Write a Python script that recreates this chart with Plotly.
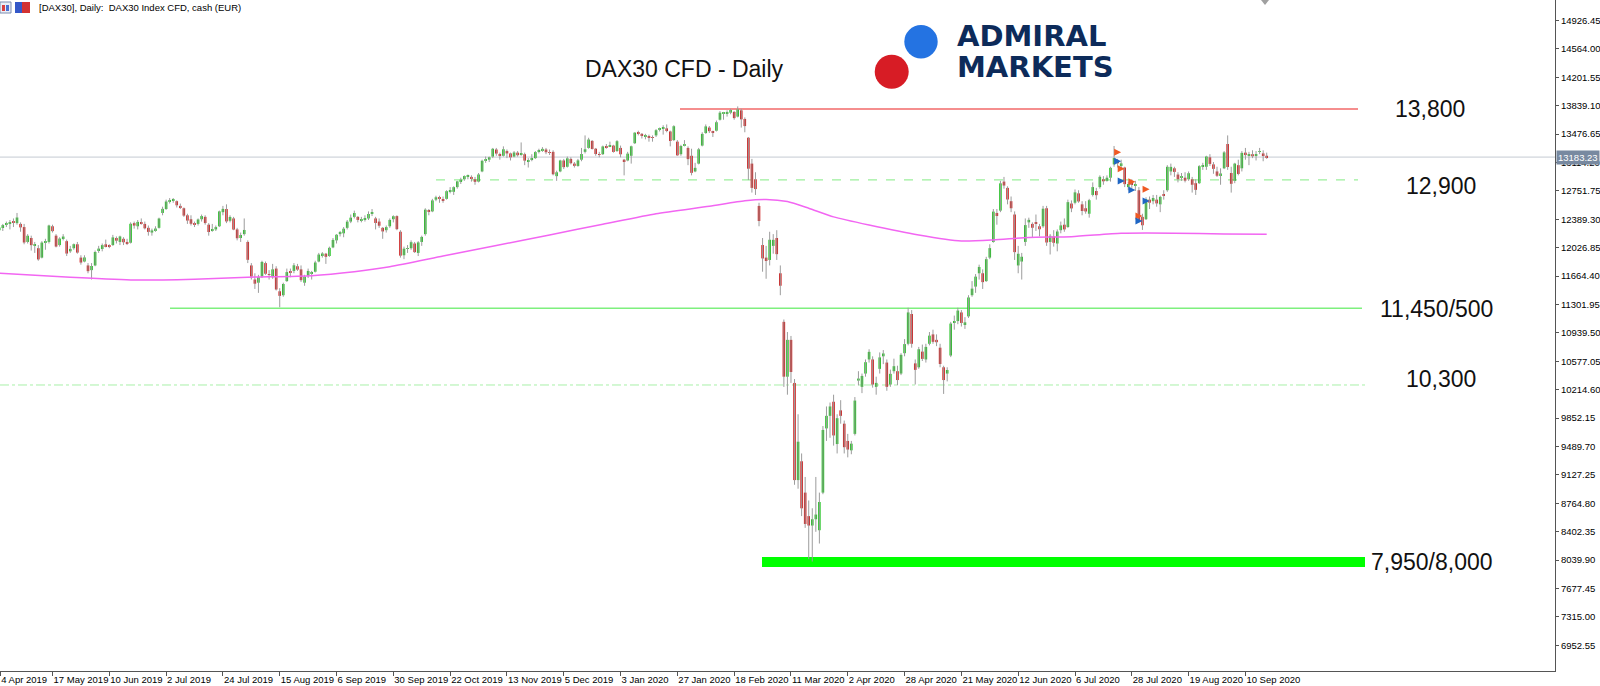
import plotly.graph_objects as go

# ---------------- data ----------------
x_labels = ["4 Apr 2019", "17 May 2019", "10 Jun 2019", "2 Jul 2019", "24 Jul 2019",
            "15 Aug 2019", "6 Sep 2019", "30 Sep 2019", "22 Oct 2019", "13 Nov 2019",
            "5 Dec 2019", "3 Jan 2020", "27 Jan 2020", "18 Feb 2020", "11 Mar 2020",
            "2 Apr 2020", "28 Apr 2020", "21 May 2020", "12 Jun 2020", "6 Jul 2020",
            "28 Jul 2020", "19 Aug 2020", "10 Sep 2020"]
x_label_bars = [0.25, 15, 31, 47, 63, 79, 95, 111, 127, 143, 159, 175, 191, 207, 223,
                239, 255, 271, 287, 303, 319, 335, 351]

y_tick_labels = ["6952.55", "7315.00", "7677.45", "8039.90", "8402.35", "8764.80", "9127.25",
                 "9489.70", "9852.15", "10214.60", "10577.05", "10939.50", "11301.95",
                 "11664.40", "12026.85", "12389.30", "12751.75", "13114.20", "13476.65",
                 "13839.10", "14201.55", "14564.00", "14926.45"]

opens = [
    12250, 12290, 12320, 12330, 12350, 12340, 12330, 12290, 12100, 12150,
    12060, 12020, 11900, 12090, 12100, 12300, 12180, 12060, 12150, 12110,
    11980, 12020, 12070, 11900, 11850, 11800, 11740, 11800, 11990, 12010,
    12070, 12050, 12060, 12150, 12100, 12140, 12100, 12090, 12340, 12300,
    12350, 12330, 12280, 12220, 12250, 12280, 12470, 12520, 12620, 12630,
    12620, 12560, 12530, 12440, 12390, 12330, 12330, 12390, 12420, 12320,
    12240, 12260, 12300, 12480, 12520, 12370, 12400, 12260, 12150, 12200,
    12100, 11800, 11620, 11580, 11660, 11830, 11680, 11650, 11760, 11470,
    11420, 11600, 11720, 11730, 11790, 11750, 11580, 11670, 11700, 11720,
    11850, 11930, 11950, 11920, 12030, 12120, 12200, 12210, 12280, 12360,
    12420, 12420, 12380, 12390, 12400, 12460, 12400, 12360, 12280, 12250,
    12300, 12390, 12430, 12230, 11930, 12010, 12020, 12080, 11960, 12100,
    12200, 12500, 12490, 12640, 12660, 12640, 12650, 12750, 12740, 12800,
    12870, 12900, 12940, 12930, 12900, 12870, 13000, 13140, 13150, 13190,
    13280, 13220, 13200, 13260, 13230, 13190, 13240, 13220, 13220, 13130,
    13150, 13170, 13250, 13270, 13280, 13240, 13250, 12940, 13000, 13140,
    13060, 13160, 13100, 13070, 13150, 13250, 13300, 13390, 13290, 13220,
    13220, 13320, 13320, 13330, 13260, 13300, 13150, 13140, 13200, 13360,
    13500, 13480, 13450, 13450, 13430, 13460, 13530, 13550, 13550, 13510,
    13400, 13380, 13220, 13330, 13300, 13200, 13000, 13100, 13330, 13490,
    13560, 13500, 13520, 13660, 13740, 13740, 13750, 13760, 13700, 13780,
    13670, 13430, 13100, 12900, 12560, 12060, 11900, 11870, 12050, 12150,
    11700, 11080, 10380, 10850, 10300, 9060, 9300, 8900, 8600, 8480,
    8560, 8420, 8900, 9720, 9880, 10060, 9520, 9950, 9780, 9560,
    9440, 9650, 10330, 10250, 10420, 10600, 10600, 10250, 10480, 10640,
    10560, 10280, 10450, 10450, 10420, 10680, 10800, 11180, 10550, 10500,
    10700, 10600, 10800, 10920, 10850, 10750, 10500, 10420, 10650, 11070,
    11090, 11200, 11050, 11150, 11420, 11530, 11700, 11700, 11600, 11900,
    12100, 12470, 12500, 12870, 12790, 12620, 12450, 11800, 11850, 12100,
    12350, 12330, 12350, 12300, 12300, 12530, 12100, 12170, 12080, 12250,
    12320, 12290, 12590, 12600, 12720, 12580, 12530, 12460, 12700, 12750,
    12800, 12900, 12880, 12920, 13090, 13130, 13080, 13050, 12800, 12860,
    12820, 12760, 12420, 12390, 12640, 12620, 12640, 12580, 12700, 12760,
    13000, 13040, 12960, 12920, 12920, 12900, 12900, 12850, 12850, 13060,
    13060, 13180, 13090, 13000, 12950, 13040, 13350, 12980, 12880, 13080,
    13040, 13240, 13200, 13220, 13200, 13250, 13230, 13200]

highs = [
    12310, 12330, 12360, 12380, 12400, 12470, 12350, 12330, 12200, 12180,
    12100, 12060, 12110, 12140, 12320, 12320, 12200, 12160, 12200, 12130,
    12050, 12080, 12100, 11930, 11930, 11830, 11830, 11990, 12050, 12080,
    12130, 12070, 12190, 12170, 12180, 12160, 12140, 12350, 12360, 12380,
    12400, 12360, 12310, 12270, 12300, 12410, 12550, 12640, 12660, 12660,
    12630, 12590, 12540, 12460, 12440, 12360, 12400, 12450, 12440, 12340,
    12330, 12310, 12500, 12560, 12580, 12440, 12420, 12280, 12220, 12400,
    12120, 11830, 11700, 11680, 11860, 11850, 11740, 11820, 11790, 11510,
    11580, 11760, 11760, 11830, 11820, 11800, 11680, 11760, 11730, 11860,
    11960, 11970, 11960, 12040, 12150, 12200, 12240, 12290, 12380, 12450,
    12500, 12430, 12420, 12440, 12490, 12520, 12420, 12400, 12290, 12310,
    12400, 12440, 12440, 12250, 12040, 12060, 12120, 12100, 12110, 12180,
    12530, 12520, 12650, 12690, 12690, 12680, 12760, 12800, 12810, 12880,
    12920, 12950, 12960, 12950, 12930, 12980, 13150, 13190, 13190, 13300,
    13300, 13240, 13320, 13280, 13240, 13260, 13260, 13370, 13240, 13170,
    13220, 13260, 13290, 13310, 13300, 13280, 13270, 13010, 13150, 13160,
    13190, 13180, 13120, 13160, 13300, 13460, 13430, 13400, 13300, 13250,
    13330, 13350, 13380, 13340, 13400, 13330, 13160, 13250, 13330, 13500,
    13520, 13490, 13480, 13470, 13460, 13540, 13560, 13590, 13600, 13520,
    13590, 13400, 13340, 13400, 13320, 13290, 13110, 13300, 13500, 13600,
    13580, 13520, 13650, 13770, 13760, 13780, 13800, 13770, 13830, 13800,
    13690, 13440, 13160, 12990, 12600, 12150, 12050, 12230, 12200, 12250,
    11800, 11110, 10950, 10900, 10350, 9900, 9400, 9100, 8800, 8700,
    9100, 8900, 9750, 10000, 10050, 10150, 9900, 10080, 9820, 9650,
    9560, 10120, 10450, 10420, 10600, 10730, 10640, 10380, 10690, 10720,
    10600, 10470, 10610, 10520, 10680, 10860, 11260, 11230, 10600, 10760,
    10790, 10800, 10950, 10980, 10920, 10800, 10520, 10500, 11080, 11160,
    11260, 11230, 11140, 11420, 11600, 11690, 11810, 11750, 11910, 12070,
    12520, 12520, 12880, 12930, 12810, 12680, 12490, 12050, 11960, 12400,
    12410, 12350, 12450, 12330, 12560, 12560, 12200, 12250, 12260, 12360,
    12400, 12640, 12630, 12770, 12760, 12620, 12620, 12650, 12860, 12790,
    12950, 12940, 12950, 13060, 13325, 13160, 13150, 13060, 12870, 12900,
    12880, 12800, 12460, 12670, 12680, 12700, 12700, 12690, 12760, 13080,
    13100, 13060, 12990, 12980, 12990, 13000, 12930, 12900, 13080, 13110,
    13200, 13220, 13120, 13060, 13040, 13260, 13460, 13060, 13110, 13150,
    13260, 13300, 13250, 13270, 13260, 13300, 13270, 13240]

lows = [
    12220, 12240, 12290, 12260, 12290, 12320, 12230, 12070, 12080, 11990,
    11960, 11860, 11890, 12000, 12080, 12220, 12030, 12040, 12120, 11920,
    11960, 12000, 11950, 11810, 11840, 11700, 11620, 11790, 11960, 11980,
    12030, 12020, 12050, 12080, 12060, 12060, 12060, 12080, 12270, 12260,
    12320, 12260, 12180, 12180, 12230, 12270, 12440, 12510, 12590, 12600,
    12540, 12520, 12420, 12330, 12310, 12290, 12310, 12360, 12320, 12180,
    12230, 12240, 12290, 12440, 12340, 12350, 12250, 12120, 12100, 12180,
    11830, 11620, 11500, 11450, 11640, 11680, 11620, 11630, 11480, 11266,
    11400, 11590, 11650, 11700, 11730, 11590, 11540, 11640, 11620, 11710,
    11840, 11900, 11820, 11910, 12020, 12080, 12170, 12160, 12260, 12340,
    12400, 12350, 12350, 12360, 12380, 12430, 12260, 12280, 12140, 12220,
    12280, 12350, 12250, 11900, 11880, 11960, 12000, 11960, 11920, 12050,
    12180, 12440, 12480, 12620, 12600, 12600, 12640, 12720, 12700, 12780,
    12840, 12880, 12900, 12870, 12830, 12860, 12990, 13110, 13120, 13170,
    13200, 13150, 13190, 13170, 13140, 13180, 13190, 13200, 13080, 13050,
    13130, 13160, 13230, 13250, 13220, 13210, 12950, 12880, 12990, 13030,
    13050, 13090, 13050, 13060, 13130, 13230, 13290, 13280, 13200, 13180,
    13210, 13290, 13310, 13240, 13250, 13180, 12950, 13130, 13100, 13350,
    13460, 13420, 13410, 13380, 13380, 13440, 13510, 13470, 13500, 13320,
    13390, 13200, 13200, 13320, 13080, 12950, 12990, 13090, 13320, 13480,
    13490, 13440, 13510, 13650, 13660, 13700, 13730, 13660, 13690, 13560,
    13500, 12890, 12730, 12700, 12300, 11720, 11630, 11800, 11950, 11870,
    11420, 10250, 10150, 10300, 9000, 8950, 8600, 8450, 8050, 8020,
    8400, 8250, 8880, 9560, 9600, 9500, 9400, 9780, 9400, 9350,
    9390, 9630, 10270, 10170, 10380, 10560, 10240, 10150, 10420, 10540,
    10200, 10250, 10420, 10270, 10400, 10640, 10780, 10750, 10280, 10480,
    10580, 10560, 10780, 10800, 10770, 10500, 10160, 10320, 10630, 10980,
    11050, 11020, 10990, 11130, 11400, 11450, 11620, 11500, 11590, 11880,
    12090, 12320, 12480, 12780, 12580, 12480, 11870, 11700, 11620, 12050,
    12280, 12150, 12240, 12170, 12280, 12050, 11940, 12040, 11980, 12210,
    12230, 12280, 12480, 12580, 12600, 12440, 12460, 12410, 12680, 12640,
    12780, 12830, 12870, 12870, 13060, 13050, 13030, 12800, 12760, 12790,
    12750, 12350, 12253, 12380, 12520, 12580, 12550, 12480, 12640, 12740,
    12950, 12930, 12860, 12880, 12860, 12880, 12730, 12700, 12840, 13020,
    13020, 13070, 12970, 12930, 12830, 13030, 13020, 12730, 12850, 12950,
    13000, 13150, 13080, 13170, 13140, 13220, 13130, 13160]

closes = [
    12283, 12315, 12328, 12344, 12345, 12412, 12286, 12093, 12179, 12059,
    12060, 11877, 12092, 12099, 12310, 12238, 12041, 12143, 12169, 11952,
    12011, 12071, 11964, 11837, 11902, 11727, 11793, 11972, 12015, 12059,
    12046, 12046, 12158, 12116, 12170, 12096, 12086, 12332, 12309, 12356,
    12340, 12274, 12228, 12247, 12271, 12399, 12522, 12616, 12629, 12630,
    12568, 12543, 12436, 12373, 12332, 12323, 12387, 12430, 12341, 12227,
    12260, 12289, 12490, 12522, 12362, 12419, 12258, 12147, 12189, 12253,
    11872, 11658, 11567, 11650, 11845, 11694, 11679, 11750, 11493, 11412,
    11563, 11715, 11712, 11802, 11747, 11612, 11658, 11730, 11701, 11838,
    11939, 11953, 11910, 12025, 12126, 12192, 12226, 12269, 12359, 12410,
    12469, 12381, 12390, 12390, 12457, 12468, 12342, 12307, 12234, 12289,
    12381, 12428, 12263, 11925, 12014, 12013, 12097, 11970, 12094, 12164,
    12512, 12486, 12630, 12670, 12655, 12634, 12748, 12754, 12799, 12873,
    12895, 12941, 12940, 12910, 12867, 12961, 13136, 13148, 13180, 13289,
    13228, 13198, 13283, 13230, 13180, 13242, 13207, 13221, 13138, 13137,
    13164, 13247, 13269, 13288, 13245, 13236, 12964, 12989, 13140, 13055,
    13167, 13105, 13071, 13141, 13222, 13283, 13407, 13287, 13222, 13212,
    13319, 13300, 13337, 13249, 13386, 13219, 13127, 13227, 13321, 13495,
    13483, 13452, 13457, 13432, 13429, 13526, 13548, 13556, 13516, 13389,
    13577, 13205, 13324, 13345, 13157, 12982, 13046, 13282, 13479, 13575,
    13514, 13494, 13628, 13750, 13745, 13744, 13784, 13681, 13790, 13665,
    13579, 13035, 12790, 12775, 12367, 11890, 11857, 12128, 12127, 11944,
    11541, 10380, 10850, 10440, 9060, 9550, 8700, 8500, 8480, 8560,
    8620, 8780, 9700, 9880, 10000, 9630, 9850, 9880, 9480, 9450,
    9525, 10075, 10356, 10390, 10565, 10697, 10280, 10301, 10626, 10676,
    10250, 10416, 10514, 10337, 10659, 10796, 11200, 10800, 10467, 10730,
    10607, 10760, 10904, 10825, 10820, 10542, 10337, 10465, 11058, 11075,
    11224, 11066, 11074, 11391, 11504, 11657, 11781, 11587, 11880, 12021,
    12487, 12431, 12848, 12820, 12642, 12530, 11970, 11949, 11911, 12315,
    12382, 12281, 12331, 12262, 12524, 12093, 12178, 12089, 12233, 12311,
    12260, 12608, 12528, 12733, 12617, 12495, 12489, 12633, 12800, 12697,
    12931, 12874, 12920, 13046, 13171, 13104, 13103, 12838, 12839, 12835,
    12822, 12380, 12313, 12647, 12601, 12661, 12592, 12675, 12687, 13059,
    13058, 12994, 12901, 12920, 12882, 12977, 12830, 12765, 13067, 13062,
    13190, 13096, 13033, 12945, 12974, 13243, 13057, 12842, 13100, 12968,
    13237, 13209, 13203, 13194, 13218, 13255, 13208, 13183]

# moving average (magenta) read at selected bars
ma_bars = [0, 20, 38, 55, 70, 88, 100, 110, 125, 140, 155, 170, 185, 200, 210, 216,
           222, 228, 235, 245, 259, 271, 280, 290, 302, 316, 331, 345, 357]
ma_values = [11700, 11650, 11614, 11625, 11649, 11669, 11720, 11784, 11920, 12055,
             12190, 12325, 12460, 12555, 12625, 12642, 12615, 12530, 12420, 12316,
             12189, 12112, 12125, 12158, 12167, 12210, 12212, 12201, 12197]

# trade arrows
sell_bars = [316, 317, 320, 324, 322]
sell_prices = [13244, 13035, 12869, 12772, 12431]
buy_bars = [316, 317, 320, 324, 322]
buy_prices = [13129, 12878, 12763, 12623, 12367]

# horizontal levels
level_red = 13797
level_12900 = 12891
level_11450 = 11252
level_10300 = 10274
band_low, band_high = 7950, 8078
current_price = 13183.23

level_texts = ["13,800", "12,900", "11,450/500", "10,300", "7,950/8,000"]

# ---------------- figure ----------------
PW, PH = 1555.0, 671.0   # plot area in pixels
X_RANGE = [0.21, 438.2]
Y_RANGE = [6623.0, 15188.4]


def px(x):
    return x / PW


def py(y):
    return 1 - y / PH


def bar_at_px(x):
    return X_RANGE[0] + x / PW * (X_RANGE[1] - X_RANGE[0])


n = len(closes)
bars = list(range(n))

fig = go.Figure()

# wicks
wx, wy = [], []
for i in bars:
    wx += [i, i, None]
    wy += [lows[i], highs[i], None]
fig.add_trace(go.Scatter(x=wx, y=wy, mode="lines", line=dict(color="#9c9c9c", width=1),
                         hoverinfo="skip", connectgaps=False))

# bodies
for up, col in ((True, "#1fc21f"), (False, "#d01a1a")):
    sel = [i for i in bars if (closes[i] >= opens[i]) == up]
    fig.add_trace(go.Bar(
        x=sel,
        y=[max(abs(closes[i] - opens[i]), 10) for i in sel],
        base=[min(opens[i], closes[i]) for i in sel],
        width=0.72, marker=dict(color=col, line=dict(width=0)), hoverinfo="skip"))

# moving average
fig.add_trace(go.Scatter(x=ma_bars, y=ma_values, mode="lines",
                         line=dict(color="#f266f2", width=1.5, shape="spline", smoothing=0.6),
                         hoverinfo="skip"))

# trade arrows
fig.add_trace(go.Scatter(x=sell_bars, y=sell_prices, mode="markers",
                         marker=dict(symbol="arrow-right", size=7, color="#ef5a24"),
                         hoverinfo="skip"))
fig.add_trace(go.Scatter(x=buy_bars, y=buy_prices, mode="markers",
                         marker=dict(symbol="arrow-right", size=7, color="#1f66c4"),
                         hoverinfo="skip"))

shapes = []
# current price line
shapes.append(dict(type="line", xref="paper", yref="y", x0=0, x1=1, y0=current_price,
                   y1=current_price, line=dict(color="#c4cad2", width=1), layer="below"))
# level lines
shapes.append(dict(type="line", xref="x", yref="y", x0=bar_at_px(680), x1=bar_at_px(1358),
                   y0=level_red, y1=level_red, line=dict(color="#f26868", width=1.5), layer="below"))
shapes.append(dict(type="line", xref="x", yref="y", x0=bar_at_px(436), x1=bar_at_px(1358),
                   y0=level_12900, y1=level_12900,
                   line=dict(color="#9cf09c", width=1.2, dash="dash"), layer="below"))
shapes.append(dict(type="line", xref="x", yref="y", x0=bar_at_px(170), x1=bar_at_px(1362),
                   y0=level_11450, y1=level_11450, line=dict(color="#7ef07e", width=1.5), layer="below"))
shapes.append(dict(type="line", xref="x", yref="y", x0=bar_at_px(0), x1=bar_at_px(1368),
                   y0=level_10300, y1=level_10300,
                   line=dict(color="#a8f0a8", width=1, dash="dashdot"), layer="below"))
shapes.append(dict(type="rect", xref="x", yref="y", x0=bar_at_px(762), x1=bar_at_px(1365),
                   y0=band_low, y1=band_high, fillcolor="#00ff00", line=dict(width=0), layer="below"))

# logo circles
for cx, cy, r, col in ((921, 41.7, 16.7, "#2473e2"), (891.7, 71.7, 17, "#d71c25")):
    shapes.append(dict(type="circle", xref="paper", yref="paper",
                       x0=px(cx - r), x1=px(cx + r), y0=py(cy + r), y1=py(cy - r),
                       fillcolor=col, line=dict(width=0), layer="above"))

# header icons
shapes.append(dict(type="rect", xref="paper", yref="paper", x0=px(0), x1=px(11), y0=py(13), y1=py(2),
                   fillcolor="#e9eef7", line=dict(color="#7d8db0", width=1)))
shapes.append(dict(type="rect", xref="paper", yref="paper", x0=px(2), x1=px(5), y0=py(11), y1=py(5),
                   fillcolor="#d84040", line=dict(width=0)))
shapes.append(dict(type="rect", xref="paper", yref="paper", x0=px(6), x1=px(9), y0=py(11), y1=py(5),
                   fillcolor="#4a6fd0", line=dict(width=0)))
shapes.append(dict(type="rect", xref="paper", yref="paper", x0=px(15), x1=px(22), y0=py(13), y1=py(2),
                   fillcolor="#3458c8", line=dict(width=0)))
shapes.append(dict(type="rect", xref="paper", yref="paper", x0=px(22), x1=px(30), y0=py(13), y1=py(2),
                   fillcolor="#d23232", line=dict(width=0)))
# chart shift marker
shapes.append(dict(type="path", xref="paper", yref="paper",
                   path=f"M {px(1261)},{py(0)} L {px(1269)},{py(0)} L {px(1265)},{py(5)} Z",
                   fillcolor="#a0a0a0", line=dict(width=0)))

annotations = []
BIG = dict(family="Liberation Sans, Arial, sans-serif", size=23, color="#111111")
annotations.append(dict(xref="paper", yref="paper", x=px(684), y=py(69.5), text="DAX30 CFD - Daily",
                        showarrow=False, xanchor="center", yanchor="middle", font=BIG))
for t, cx, cy in zip(level_texts, [1430, 1441, 1436, 1441, 1432], [109, 186.5, 309, 378.5, 562]):
    annotations.append(dict(xref="paper", yref="paper", x=px(cx), y=py(cy), text=t,
                            showarrow=False, xanchor="center", yanchor="middle", font=BIG))
LOGO = dict(family="DejaVu Sans, Liberation Sans, sans-serif", size=29, color="#0d2b5a")
annotations.append(dict(xref="paper", yref="paper", x=px(955), y=py(36), text="<b>ADMIRAL</b>",
                        showarrow=False, xanchor="left", yanchor="middle", font=LOGO))
annotations.append(dict(xref="paper", yref="paper", x=px(955), y=py(67), text="<b>MARKETS</b>",
                        showarrow=False, xanchor="left", yanchor="middle", font=LOGO))
annotations.append(dict(xref="paper", yref="paper", x=px(37), y=py(7),
                        text="[DAX30], Daily:  DAX30 Index CFD, cash (EUR)",
                        showarrow=False, xanchor="left", yanchor="middle",
                        font=dict(family="Liberation Sans, Arial, sans-serif", size=9.5, color="#000000")))
annotations.append(dict(xref="paper", yref="y", x=1, y=current_price, text=f"{current_price:.2f}",
                        showarrow=False, xanchor="left", yanchor="middle", bgcolor="#7889a0",
                        borderpad=1, xshift=1,
                        font=dict(family="Liberation Sans, Arial, sans-serif", size=9.5, color="#ffffff")))

TICKFONT = dict(family="Liberation Sans, Arial, sans-serif", size=9.5, color="#000000")
fig.update_layout(
    width=1600, height=686, margin=dict(l=0, r=45, t=0, b=15, pad=0),
    paper_bgcolor="white", plot_bgcolor="white", showlegend=False, barmode="overlay",
    hovermode=False, shapes=shapes, annotations=annotations,
    xaxis=dict(range=X_RANGE, showgrid=False, zeroline=False, showline=True, linecolor="#555555",
               linewidth=1, ticks="outside", ticklen=4, tickcolor="#555555",
               tickvals=x_label_bars, ticktext=x_labels, tickfont=TICKFONT, tickangle=0,
               ticklabelposition="outside right", fixedrange=True),
    yaxis=dict(range=Y_RANGE, side="right", showgrid=False, zeroline=False, showline=True,
               linecolor="#555555", linewidth=1, ticks="outside", ticklen=3, tickcolor="#555555",
               tickvals=[float(s) for s in y_tick_labels], ticktext=y_tick_labels,
               tickfont=TICKFONT, fixedrange=True),
)

fig.write_html("out.html", config={"displayModeBar": False},
               post_script="document.body.style.margin='0';document.body.style.overflow='hidden';")
